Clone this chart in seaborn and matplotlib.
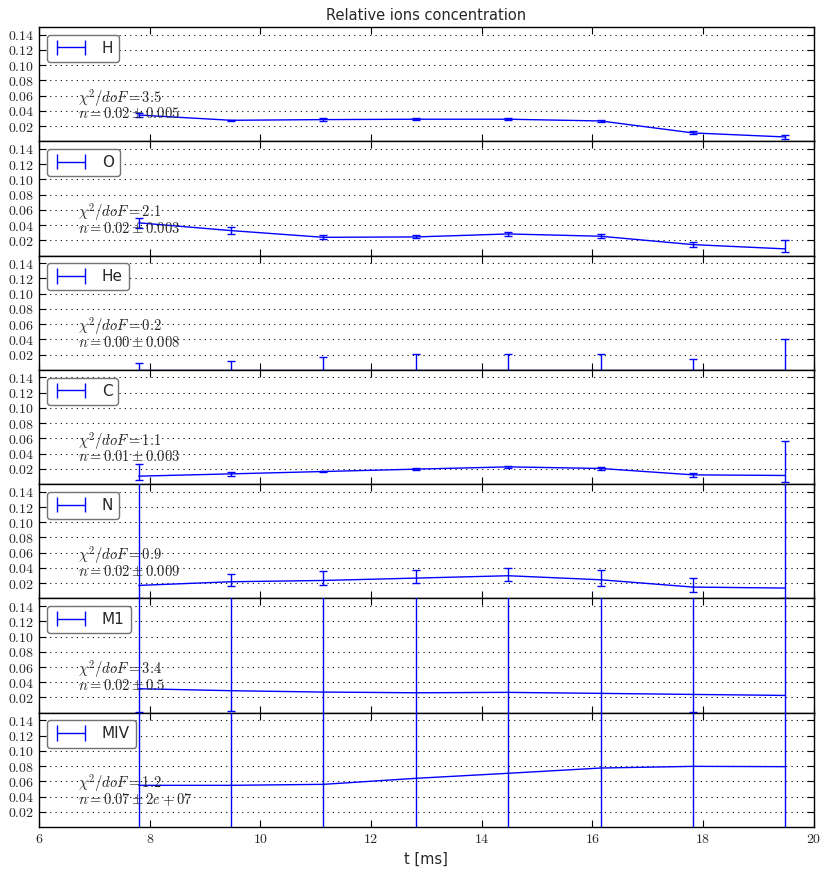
import numpy as np
import matplotlib
matplotlib.use("Agg")
import matplotlib.pyplot as plt
from matplotlib.ticker import FuncFormatter, FixedLocator
import seaborn as sns

# ---------------- data ----------------
t_ms = [7.8, 9.47, 11.14, 12.81, 14.48, 16.15, 17.82, 19.49]
species = ["H", "O", "He", "C", "N", "M1", "MIV"]

H_y  = [0.0345, 0.0276, 0.0285, 0.0290, 0.0290, 0.0267, 0.0110, 0.0057]
H_lo = [0.0315, 0.0266, 0.0270, 0.0278, 0.0275, 0.0252, 0.0090, 0.0027]
H_hi = [0.0375, 0.0286, 0.0300, 0.0302, 0.0305, 0.0282, 0.0130, 0.0087]

O_y  = [0.0430, 0.0328, 0.0240, 0.0245, 0.0284, 0.0254, 0.0144, 0.0088]
O_lo = [0.0363, 0.0285, 0.0215, 0.0225, 0.0254, 0.0228, 0.0107, 0.0044]
O_hi = [0.0499, 0.0376, 0.0265, 0.0265, 0.0314, 0.0280, 0.0181, 0.0206]

He_y  = [0.0, 0.0, 0.0, 0.0, 0.0, 0.0, 0.0, 0.0]
He_lo = [-0.0088, -0.0114, -0.0175, -0.0206, -0.0206, -0.0206, -0.0149, -0.0400]
He_hi = [0.0088, 0.0114, 0.0175, 0.0206, 0.0206, 0.0206, 0.0149, 0.0400]

C_y  = [0.0105, 0.0135, 0.0166, 0.0197, 0.0227, 0.0206, 0.0122, 0.0114]
C_lo = [0.0050, 0.0111, 0.0156, 0.0182, 0.0217, 0.0186, 0.0096, 0.0022]
C_hi = [0.0260, 0.0159, 0.0176, 0.0212, 0.0237, 0.0226, 0.0148, 0.0564]

N_y  = [0.0171, 0.0219, 0.0236, 0.0267, 0.0298, 0.0245, 0.0149, 0.0136]
N_lo = [0.0010, 0.0157, 0.0171, 0.0201, 0.0232, 0.0167, 0.0088, 0.0010]
N_hi = [0.1800, 0.0319, 0.0363, 0.0376, 0.0398, 0.0376, 0.0267, 0.1800]

M1_y  = [0.0315, 0.0289, 0.0271, 0.0262, 0.0267, 0.0254, 0.0240, 0.0227]
M1_lo = [0.0010, 0.0026, -0.0200, -0.0200, -0.0200, -0.0200, 0.0010, -0.0200]
M1_hi = [0.1800, 0.1800, 0.1800, 0.1800, 0.1800, 0.1800, 0.1800, 0.1800]

MIV_y  = [0.0547, 0.0547, 0.0560, 0.0639, 0.0705, 0.0774, 0.0796, 0.0792]
MIV_lo = [-0.0500, -0.0500, -0.0500, -0.0500, -0.0500, -0.0500, -0.0500, -0.0500]
MIV_hi = [0.2000, 0.2000, 0.2000, 0.2000, 0.2000, 0.2000, 0.2000, 0.2000]

chi2_dof = ["3.5", "2.1", "0.2", "1.1", "0.9", "3.4", "1.2"]
n_text = [r"0.02 \pm 0.005", r"0.02 \pm 0.003", r"0.00 \pm 0.008",
          r"0.01 \pm 0.003", r"0.02 \pm 0.009", r"0.02 \pm 0.5",
          r"0.07 \pm 2e+07"]

y_ticks = [0.02, 0.04, 0.06, 0.08, 0.10, 0.12, 0.14]
x_ticks = [6, 8, 10, 12, 14, 16, 18, 20]

series = {
    "H": (H_y, H_lo, H_hi),
    "O": (O_y, O_lo, O_hi),
    "He": (He_y, He_lo, He_hi),
    "C": (C_y, C_lo, C_hi),
    "N": (N_y, N_lo, N_hi),
    "M1": (M1_y, M1_lo, M1_hi),
    "MIV": (MIV_y, MIV_lo, MIV_hi),
}

# ---------------- style ----------------
sns.set_style("white")
plt.rcParams["font.family"] = ["DejaVu Sans"]
plt.rcParams["mathtext.fontset"] = "cm"
plt.rcParams["axes.linewidth"] = 1.0
plt.rcParams["axes.edgecolor"] = "black"

fig, axes = plt.subplots(7, 1, sharex=True, figsize=(8.32, 8.72), dpi=100,
                         gridspec_kw=dict(hspace=0))
fig.subplots_adjust(left=0.047, right=0.978, top=0.969, bottom=0.0516)

fmt = FuncFormatter(lambda v, p: f"${v:.2f}$")
xfmt = FuncFormatter(lambda v, p: f"${v:g}$")

for i, (ax, name) in enumerate(zip(axes, species)):
    y, lo, hi = (np.array(a, dtype=float) for a in series[name])
    x = np.array(t_ms)
    sns.lineplot(x=x, y=y, ax=ax, color="b", lw=1.0, legend=False,
                 errorbar=None, zorder=3)
    ax.errorbar(x, y, yerr=[y - lo, hi - y], fmt="none", ecolor="b",
                elinewidth=1.0, capsize=3, capthick=1.0, zorder=3)
    proxy = ax.errorbar([], [], yerr=[[], []], fmt="-", color="b", lw=1.0,
                        capsize=3, capthick=1.0, label=name)
    leg = ax.legend(handles=[proxy], labels=[name], loc="upper left",
                    numpoints=2, fontsize=11, handlelength=2.4,
                    handletextpad=0.8, borderpad=0.4, borderaxespad=0.5,
                    fancybox=True, framealpha=1.0, edgecolor="0.45")
    leg.get_frame().set_linewidth(1.0)

    ax.text(6.7, 0.051, r"$\chi^2/doF = " + chi2_dof[i] + "$", fontsize=10.5,
            color="0.15", va="baseline", ha="left")
    ax.text(6.7, 0.030, r"$n = " + n_text[i] + "$", fontsize=10.5,
            color="0.15", va="baseline", ha="left")

    ax.set_xlim(6, 20)
    ax.set_ylim(0, 0.15)
    ax.yaxis.set_major_locator(FixedLocator(y_ticks))
    ax.yaxis.set_major_formatter(fmt)
    ax.xaxis.set_major_locator(FixedLocator(x_ticks))
    ax.xaxis.set_major_formatter(xfmt)
    ax.yaxis.grid(True, linestyle=(0, (1, 3.8)), color="k", lw=0.8)
    ax.xaxis.grid(False)
    ax.tick_params(direction="in", top=True, right=True, bottom=True, left=True,
                   length=5, width=0.8, labelsize=10, color="k")
    ax.set_ylabel("")
    ax.set_xlabel("")
    for s in ax.spines.values():
        s.set_visible(True)
        s.set_color("black")
        s.set_linewidth(1.0)

axes[0].set_title("Relative ions concentration", fontsize=10.5, pad=5)
axes[-1].set_xlabel("t [ms]", fontsize=10.5)

fig.savefig("out.png", dpi=100, facecolor="white")
